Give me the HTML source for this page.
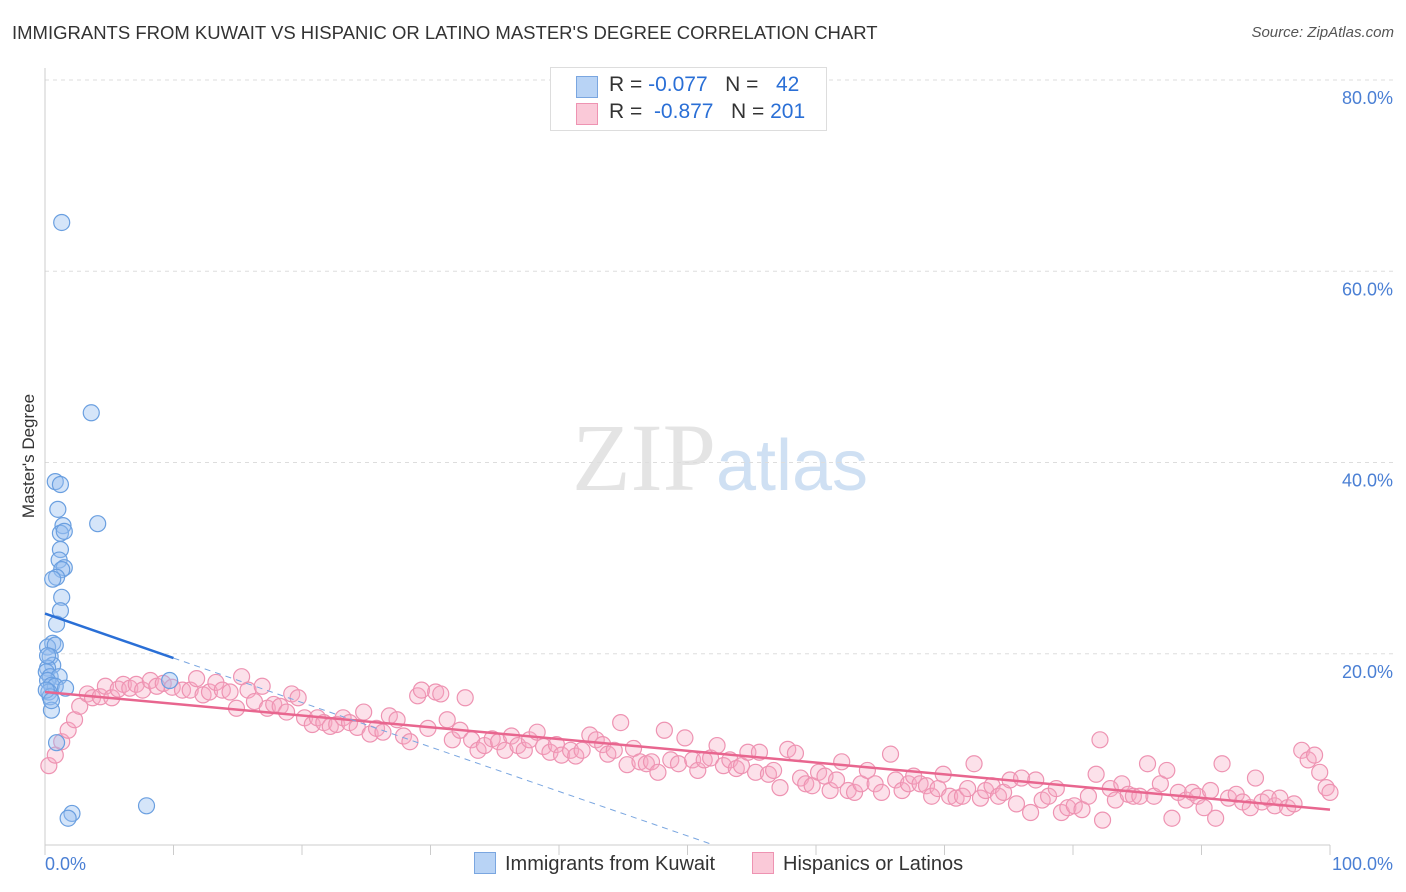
<!DOCTYPE html>
<html><head><meta charset="utf-8">
<style>
body{margin:0;background:#fff;font-family:"Liberation Sans",sans-serif;}
#wrap{position:relative;width:1406px;height:892px;overflow:hidden;}
.t{position:absolute;white-space:nowrap;}
</style></head>
<body><div id="wrap">
<div class="t" style="left:12px;top:22px;font-size:18.5px;color:#333;">IMMIGRANTS FROM KUWAIT VS HISPANIC OR LATINO MASTER'S DEGREE CORRELATION CHART</div>
<div class="t" style="right:12px;top:24px;font-size:15px;color:#555;font-style:italic;">Source: ZipAtlas.com</div>
<svg id="svg" width="1406" height="892" style="position:absolute;left:0;top:0"></svg>
</div>
<script>
const yTicks=[20,40,60,80];
const xTickLabels=["0.0%","100.0%"];
const blueX=[1.3,3.6,0.8,1.2,1.0,1.4,4.1,1.2,1.5,1.2,1.1,1.5,1.3,0.9,0.6,1.3,1.2,0.9,0.6,0.2,0.8,0.4,0.6,0.2,0.1,0.4,1.1,0.2,0.5,0.8,1.6,0.3,0.4,0.5,0.9,2.1,1.8,7.9,9.7,0.1,0.2,0.5];
const blueY=[65.1,45.2,38.0,37.7,35.1,33.4,33.6,32.6,32.8,30.9,29.8,29.0,28.8,28.0,27.8,25.9,24.5,23.1,21.1,20.7,20.9,19.7,18.8,18.5,18.1,17.6,17.6,17.2,16.7,16.6,16.4,16.0,15.5,14.1,10.7,3.3,2.8,4.1,17.2,16.2,19.8,15.1];
const pinkX=[0.3,0.8,1.3,1.8,2.3,2.7,3.3,3.7,4.3,4.7,5.2,5.7,6.1,6.6,7.1,7.6,8.2,8.7,9.2,9.9,10.7,11.3,11.8,12.3,12.8,13.3,13.8,14.4,14.9,15.3,15.8,16.3,16.9,17.3,17.8,18.3,18.8,19.2,19.7,20.2,20.8,21.2,21.7,22.2,22.7,23.2,23.7,24.3,24.8,25.3,25.8,26.3,26.8,27.4,27.9,28.4,29.0,29.3,29.8,30.4,30.8,31.3,31.7,32.3,32.7,33.2,33.7,34.2,34.8,35.3,35.8,36.3,36.8,37.3,37.7,38.3,38.8,39.3,39.8,40.2,40.9,41.3,41.8,42.4,42.9,43.4,43.8,44.3,44.8,45.3,45.8,46.3,46.8,47.2,47.7,48.2,48.7,49.3,49.8,50.4,50.8,51.3,51.8,52.3,52.8,53.3,53.8,54.2,54.7,55.3,55.6,56.3,56.7,57.2,57.8,58.4,58.8,59.2,59.7,60.2,60.7,61.1,61.6,62.0,62.5,63.0,63.5,64.0,64.6,65.1,65.8,66.2,66.7,67.2,67.6,68.1,68.6,69.0,69.5,69.9,70.4,70.9,71.4,71.8,72.3,72.8,73.2,73.7,74.2,74.6,75.1,75.6,76.0,76.7,77.1,77.6,78.1,78.7,79.1,79.6,80.1,80.7,81.2,81.8,82.1,82.3,82.9,83.3,83.8,84.3,84.7,85.2,85.8,86.3,86.8,87.3,87.7,88.2,88.8,89.3,89.7,90.2,90.7,91.1,91.6,92.1,92.7,93.2,93.8,94.2,94.7,95.2,95.7,96.1,96.7,97.2,97.8,98.3,98.8,99.2,99.7,100];
const pinkY=[8.3,9.4,10.8,12.0,13.1,14.5,15.8,15.4,15.5,16.6,15.4,16.3,16.8,16.4,16.8,16.2,17.2,16.6,16.9,16.5,16.2,16.2,17.4,15.7,16.0,17.0,16.2,16.0,14.3,17.6,16.2,15.0,16.6,14.3,14.7,14.5,13.9,15.8,15.4,13.3,12.6,13.3,12.8,12.4,12.6,13.3,12.8,12.3,13.9,11.6,12.2,11.8,13.5,13.1,11.4,10.8,15.6,16.2,12.2,16.0,15.8,13.1,11.0,12.0,15.4,11.0,9.9,10.4,11.1,10.8,9.9,11.4,10.4,9.9,11.0,11.8,10.3,9.7,10.5,9.4,9.9,9.3,9.9,11.5,11.0,10.5,9.5,9.9,12.8,8.4,10.1,8.7,8.5,8.7,7.6,12.0,8.9,8.5,11.2,8.9,7.8,8.9,9.1,10.4,8.3,8.9,8.0,8.3,9.7,7.6,9.7,7.4,7.8,6.0,10.0,9.6,7.0,6.4,6.2,7.6,7.2,5.7,6.8,8.7,5.7,5.5,6.4,7.8,6.4,5.5,9.5,6.8,5.7,6.4,7.2,6.4,6.2,5.1,5.9,7.4,5.1,4.9,5.1,5.9,8.5,4.9,5.7,6.2,5.1,5.5,6.8,4.3,7.0,3.4,6.8,4.7,5.1,5.9,3.4,3.9,4.1,3.7,5.1,7.4,11.0,2.6,5.9,4.7,6.4,5.3,5.1,5.1,8.5,5.1,6.4,7.8,2.8,5.5,4.7,5.5,5.1,3.9,5.7,2.8,8.5,4.9,5.3,4.5,3.9,7.0,4.5,4.9,4.1,4.9,3.9,4.3,9.9,8.9,9.4,7.6,6.0,5.5];
const blueFit=[24.2,-0.465];
const pinkFit=[16.0,-0.123];

const NS="http://www.w3.org/2000/svg";
const svg=document.getElementById('svg');
const L=45,R=1330,T=80,B=845;
const sx=v=>L+(R-L)*v/100;
const sy=v=>B-(B-T)*v/80;
function el(tag,a,parent){const e=document.createElementNS(NS,tag);for(const k in a)e.setAttribute(k,a[k]);(parent||svg).appendChild(e);return e;}

let wm=el('text',{x:720,y:490,'font-size':96,'text-anchor':'middle','font-family':'Liberation Serif, serif',fill:'#e4e4e4'});


wm.innerHTML='ZIP<tspan fill="#cfe0f3" font-family="Liberation Sans, sans-serif" font-size="72">atlas</tspan>';

yTicks.forEach(v=>{
  const g=el('line',{x1:L,x2:1395,y1:sy(v),y2:sy(v),stroke:'#ddd','stroke-dasharray':'4,4'});
  
  
  const t=el('text',{x:1393,y:sy(v)+24,'text-anchor':'end','font-size':18,fill:'#4a7fd4'});
  
  
  t.textContent=v.toFixed(1)+'%';
});
let ax=el('line',{x1:L,x2:L,y1:68,y2:B,stroke:'#ccc'});


let bx=el('line',{x1:L,x2:R,y1:B,y2:B,stroke:'#ccc'});


for(let i=0;i<=10;i++){
  const tk=el('line',{x1:sx(i*10),x2:sx(i*10),y1:B,y2:B+10,stroke:'#ccc'});
  
  
}
[[0,'start',L],[100,'end',1393]].forEach((p,i)=>{
  const t=el('text',{x:p[2],y:870,'text-anchor':p[1],'font-size':18,fill:'#4a7fd4'});
  
  
  t.textContent=xTickLabels[i];
});
let yt=el('text',{x:34,y:456,'text-anchor':'middle','font-size':17,fill:'#333',transform:'rotate(-90 34 456)'});


yt.textContent="Master's Degree";

pinkX.forEach((x,i)=>{
  const c=el('circle',{cx:sx(x),cy:sy(pinkY[i]),r:8,fill:'rgba(246,170,196,0.35)',stroke:'#ee93b2','stroke-width':1.2});
  
  
});
blueX.forEach((x,i)=>{
  const c=el('circle',{cx:sx(x),cy:sy(blueY[i]),r:8,fill:'rgba(150,190,240,0.4)',stroke:'#6a9fe0','stroke-width':1.2});
  
  
});
const f=(fit,x)=>fit[0]+fit[1]*x;
let pl=el('line',{x1:sx(0),y1:sy(f(pinkFit,0)),x2:sx(100),y2:sy(f(pinkFit,100)),stroke:'#e8668f','stroke-width':2.5});


const xEnd=-blueFit[0]/blueFit[1];
let bd=el('line',{x1:sx(10),y1:sy(f(blueFit,10)),x2:sx(xEnd),y2:sy(0),stroke:'#7aa6e0','stroke-width':1,'stroke-dasharray':'6,5'});


let bl=el('line',{x1:sx(0),y1:sy(f(blueFit,0)),x2:sx(10),y2:sy(f(blueFit,10)),stroke:'#2a6fd6','stroke-width':2.5});


</script>
<div class="t" style="left:550px;top:67px;width:275px;height:62px;border:1px solid #ddd;background:#fff;font-size:21px;color:#333;">
  <div style="position:absolute;left:25px;top:8px;width:20px;height:20px;background:#b8d3f5;border:1px solid #7aa6e0;"></div>
  <div style="position:absolute;left:58px;top:5px;">R = <span style="color:#2a6fd6">-0.077</span>&nbsp;&nbsp;&nbsp;N = &nbsp;&nbsp;<span style="color:#2a6fd6">42</span></div>
  <div style="position:absolute;left:25px;top:35px;width:20px;height:20px;background:#fac9d8;border:1px solid #ee93b2;"></div>
  <div style="position:absolute;left:58px;top:32px;">R = &nbsp;<span style="color:#2a6fd6">-0.877</span>&nbsp;&nbsp;&nbsp;N = <span style="color:#2a6fd6">201</span></div>
</div>
<div class="t" style="left:474px;top:852px;font-size:20px;color:#333;">
  <span style="display:inline-block;width:20px;height:20px;background:#b8d3f5;border:1px solid #7aa6e0;vertical-align:-4px;margin-right:9px;"></span>Immigrants from Kuwait</div>
<div class="t" style="left:752px;top:852px;font-size:20px;color:#333;">
  <span style="display:inline-block;width:20px;height:20px;background:#fac9d8;border:1px solid #ee93b2;vertical-align:-4px;margin-right:9px;"></span>Hispanics or Latinos</div>
</body></html>
